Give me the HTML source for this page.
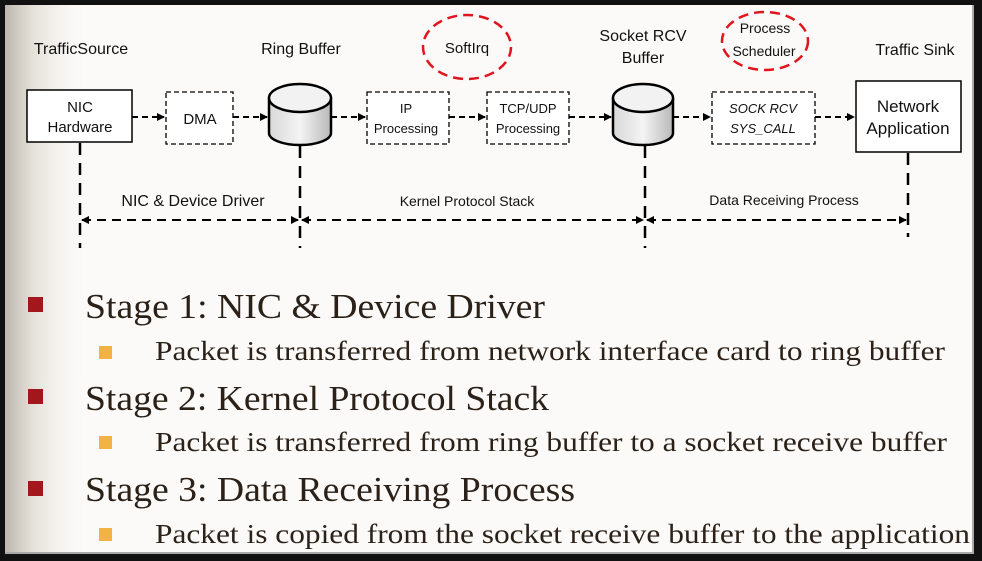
<!DOCTYPE html>
<html><head><meta charset="utf-8"><style>
html,body{margin:0;padding:0;background:#111;}
svg{display:block}
.sans{font-family:"Liberation Sans",Arial,sans-serif;}
.serif{font-family:"Liberation Serif","Times New Roman",serif;}
</style></head><body>
<svg width="982" height="561" viewBox="0 0 982 561" xmlns="http://www.w3.org/2000/svg">
<defs>
<linearGradient id="bg" x1="0" y1="0" x2="1" y2="0">
<stop offset="0" stop-color="#bdb8ae"/><stop offset="0.3" stop-color="#e2ded6"/><stop offset="1" stop-color="#fbfaf8" stop-opacity="0"/>
</linearGradient>
<linearGradient id="cyl" x1="0" y1="0" x2="1" y2="0">
<stop offset="0" stop-color="#d8d8d8"/><stop offset="0.5" stop-color="#f4f4f4"/><stop offset="1" stop-color="#b8b8b8"/>
</linearGradient>
<marker id="ah" markerWidth="8" markerHeight="8" refX="7" refY="4" orient="auto" markerUnits="userSpaceOnUse"><path d="M0,0 L8,4 L0,8 z" fill="#000"/></marker>
<marker id="as" markerWidth="8" markerHeight="8" refX="1" refY="4" orient="auto" markerUnits="userSpaceOnUse"><path d="M8,0 L0,4 L8,8 z" fill="#000"/></marker>
</defs>
<rect x="0" y="0" width="982" height="561" fill="#111"/>
<rect x="5" y="5" width="969" height="549" fill="#a9a9a9"/>
<rect x="5" y="5" width="967" height="547" fill="#fbfaf8"/>
<rect x="5" y="5" width="85" height="547" fill="url(#bg)"/>

<g class="sans" fill="#111" text-anchor="middle">
<text x="81" y="54" font-size="16">TrafficSource</text>
<text x="301" y="54" font-size="16">Ring Buffer</text>
<text x="643" y="41" font-size="16">Socket RCV</text>
<text x="643" y="63" font-size="16">Buffer</text>
<text x="915" y="55" font-size="16">Traffic Sink</text>
<text x="467" y="53" font-size="15">SoftIrq</text>
<text x="765" y="33" font-size="14">Process</text>
<text x="764" y="56" font-size="14">Scheduler</text>
</g>
<ellipse cx="467" cy="47" rx="44" ry="32" fill="none" stroke="#e0141c" stroke-width="2.5" stroke-dasharray="10,6"/>
<ellipse cx="765" cy="41" rx="43" ry="29" fill="none" stroke="#e0141c" stroke-width="2.5" stroke-dasharray="10,6"/>

<rect x="27" y="90" width="105" height="52" fill="#fff" stroke="#000" stroke-width="1.5"/>
<rect x="166" y="92" width="67" height="52" fill="#fff" stroke="#000" stroke-width="1.3" stroke-dasharray="5,3"/>
<rect x="367" y="92" width="82" height="52" fill="#fff" stroke="#000" stroke-width="1.3" stroke-dasharray="5,3"/>
<rect x="487" y="92" width="82" height="52" fill="#fff" stroke="#000" stroke-width="1.3" stroke-dasharray="5,3"/>
<rect x="712" y="92" width="103" height="52" fill="#fff" stroke="#000" stroke-width="1.3" stroke-dasharray="5,3"/>
<rect x="856" y="81" width="105" height="71" fill="#fff" stroke="#000" stroke-width="1.5"/>

<g stroke="#000" stroke-width="2.5">
<path d="M269,98 L269,133 A31,12 0 0 0 331,133 L331,98" fill="url(#cyl)"/>
<ellipse cx="300" cy="98" rx="31" ry="14" fill="#f2f2f2"/>
<path d="M613,98 L613,133 A30,12 0 0 0 673,133 L673,98" fill="url(#cyl)"/>
<ellipse cx="643" cy="98" rx="30" ry="14" fill="#f2f2f2"/>
</g>

<g class="sans" fill="#111" text-anchor="middle">
<text x="80" y="112" font-size="15">NIC</text>
<text x="80" y="132" font-size="15">Hardware</text>
<text x="200" y="124" font-size="15">DMA</text>
<text x="406" y="113" font-size="13">IP</text>
<text x="406" y="133" font-size="13">Processing</text>
<text x="528" y="113" font-size="13">TCP/UDP</text>
<text x="528" y="133" font-size="13">Processing</text>
<text x="763" y="113" font-size="13" font-style="italic">SOCK RCV</text>
<text x="763" y="133" font-size="13" font-style="italic">SYS_CALL</text>
<text x="908" y="112" font-size="17">Network</text>
<text x="908" y="134" font-size="17">Application</text>
<text x="193" y="206" font-size="16">NIC &amp; Device Driver</text>
<text x="467" y="206" font-size="14">Kernel Protocol Stack</text>
<text x="784" y="205" font-size="14">Data Receiving Process</text>
</g>

<g stroke="#000" stroke-width="2" fill="none" stroke-dasharray="6,4">
<line x1="132" y1="117" x2="164" y2="117" marker-end="url(#ah)"/>
<line x1="233" y1="117" x2="267" y2="117" marker-end="url(#ah)"/>
<line x1="331" y1="117" x2="365" y2="117" marker-end="url(#ah)"/>
<line x1="449" y1="117" x2="485" y2="117" marker-end="url(#ah)"/>
<line x1="569" y1="117" x2="611" y2="117" marker-end="url(#ah)"/>
<line x1="673" y1="117" x2="710" y2="117" marker-end="url(#ah)"/>
<line x1="815" y1="117" x2="854" y2="117" marker-end="url(#ah)"/>
</g>
<g stroke="#000" stroke-width="2.5" fill="none" stroke-dasharray="12,8">
<line x1="80" y1="143" x2="80" y2="248"/>
<line x1="300" y1="146" x2="300" y2="248"/>
<line x1="645" y1="146" x2="645" y2="248"/>
<line x1="908" y1="153" x2="908" y2="237"/>
</g>
<g stroke="#000" stroke-width="2" fill="none" stroke-dasharray="9,6">
<line x1="82" y1="220" x2="298" y2="220" marker-start="url(#as)" marker-end="url(#ah)"/>
<line x1="302" y1="220" x2="643" y2="220" marker-start="url(#as)" marker-end="url(#ah)"/>
<line x1="647" y1="220" x2="906" y2="220" marker-start="url(#as)" marker-end="url(#ah)"/>
</g>

<g fill="#a3161c">
<rect x="28" y="297" width="15" height="15"/>
<rect x="28" y="389" width="15" height="15"/>
<rect x="28" y="481" width="15" height="15"/>
</g>
<g fill="#f2b246">
<rect x="99" y="346" width="13" height="13"/>
<rect x="99" y="436" width="13" height="13"/>
<rect x="99" y="528" width="13" height="13"/>
</g>
<g class="serif" fill="#2b2118">
<text x="85" y="318" font-size="35" textLength="460" lengthAdjust="spacingAndGlyphs">Stage 1: NIC &amp; Device Driver</text>
<text x="155" y="360" font-size="27" textLength="790" lengthAdjust="spacingAndGlyphs">Packet is transferred from network interface card to ring buffer</text>
<text x="85" y="410" font-size="35" textLength="464" lengthAdjust="spacingAndGlyphs">Stage 2: Kernel Protocol Stack</text>
<text x="155" y="451" font-size="27" textLength="792" lengthAdjust="spacingAndGlyphs">Packet is transferred from ring buffer to a socket receive buffer</text>
<text x="85" y="501" font-size="35" textLength="490" lengthAdjust="spacingAndGlyphs">Stage 3: Data Receiving Process</text>
<text x="155" y="543" font-size="27" textLength="815" lengthAdjust="spacingAndGlyphs">Packet is copied from the socket receive buffer to the application</text>
</g>
</svg>
</body></html>
